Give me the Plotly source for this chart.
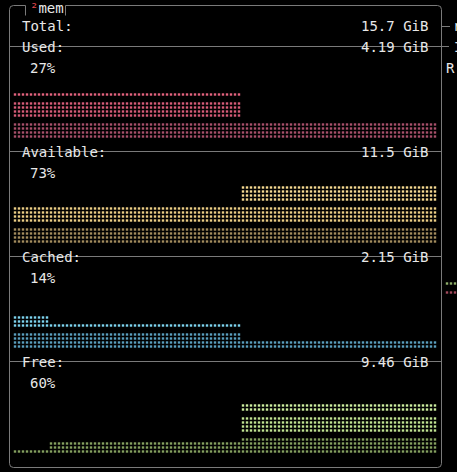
import plotly.graph_objects as go

# ---------------- data ----------------
total_label = "Total:"
total_value = "15.7 GiB"

stat_labels = ["Used:", "Available:", "Cached:", "Free:"]
stat_values = ["4.19 GiB", "11.5 GiB", "2.15 GiB", "9.46 GiB"]
stat_percents = [27, 73, 14, 60]

# graph history, run-length encoded: (samples, height in braille dot rows, max 12)
used_history = [(57, 9), (49, 4)]
available_history = [(57, 8), (49, 12)]
cached_history = [(9, 7), (48, 5), (49, 2)]
free_history = [(9, 1), (48, 3), (49, 10)]

# tiny disk io graph peeking in on the right (samples, dot rows)
disk_read_history = [(3, 1)]
disk_write_history = [(3, 1)]

side_texts = ["r", "I", "R"]

# ---------------- styling ----------------
W, H = 457, 472
CW, CH = 8, 21          # terminal cell size
Y0 = 26                 # centre of the "Total:" row
BG = "#000000"
FG = "#e8e8e8"
LINE = "#7a7a7a"
FONT = "DejaVu Sans Mono"
FS = 14

row_colors = [
    ["#e4637f", "#d65c78", "#a7506a"],   # used (top -> bottom)
    ["#f5d991", "#ebcd85", "#a38c5d"],   # available
    ["#8fe3f7", "#7dd3ee", "#5a9ebd"],   # cached
    ["#cdeea0", "#bfe291", "#84a05f"],   # free
]
histories = [used_history, available_history, cached_history, free_history]


def row_y(k):
    return Y0 + CH * k


def expand(runs):
    out = []
    for n, h in runs:
        out += [h] * n
    return out


fig = go.Figure()

# braille graphs
for s, hist in enumerate(histories):
    heights = expand(hist)
    groups = {0: ([], []), 1: ([], []), 2: ([], [])}
    for i, h in enumerate(heights):
        for r in range(h):
            cr = 2 - r // 4
            k = 3 + 5 * s + cr
            top = row_y(k) - CH / 2
            y = top + 16 - 4 * (r % 4)
            x = 15 + 4 * i
            groups[cr][0].append(x)
            groups[cr][1].append(y)
    for cr in range(3):
        xs, ys = groups[cr]
        if xs:
            fig.add_trace(go.Scatter(
                x=xs, y=ys, mode="markers", hoverinfo="skip", showlegend=False,
                marker=dict(symbol="square", size=2.4, color=row_colors[s][cr],
                            line=dict(width=0))))

# disk io mini graph (right edge)
for hist, k, off, col in [(disk_read_history, 12, 16, "#8fae6a"),
                          (disk_write_history, 13, 4, "#a24a5c")]:
    heights = expand(hist)
    xs = [15 + 4 * (108 + i) for i, h in enumerate(heights) if h > 0]
    ys = [row_y(k) - CH / 2 + off] * len(xs)
    fig.add_trace(go.Scatter(
        x=xs, y=ys, mode="markers", hoverinfo="skip", showlegend=False,
        marker=dict(symbol="square", size=2.4, color=col, line=dict(width=0))))

shapes = []
L, R = 9.5, 441.5
T, B = row_y(-1) + 0.5, row_y(21) + 0.5
rr = 4
# outer box with title notch
path = (f"M 25.5,{row_y(-1) + 10.5} L 25.5,{T} L {L + rr},{T} Q {L},{T} {L},{T + rr} "
        f"L {L},{B - rr} Q {L},{B} {L + rr},{B} L {R - rr},{B} Q {R},{B} {R},{B - rr} "
        f"L {R},{T + rr} Q {R},{T} {R - rr},{T} L 65.5,{T} L 65.5,{row_y(-1) + 10.5}")
shapes.append(dict(type="path", path=path, xref="x", yref="y",
                   line=dict(color=LINE, width=1), layer="below"))
# separators behind stat labels
for s in range(4):
    y = row_y(1 + 5 * s) - 0.5
    shapes.append(dict(type="line", x0=L, x1=R, y0=y, y1=y, xref="x", yref="y",
                       line=dict(color=LINE, width=1), layer="below"))
# right panel stubs
shapes.append(dict(type="line", x0=R, x1=450, y0=row_y(0) + 0.5, y1=row_y(0) + 0.5,
                   xref="x", yref="y", line=dict(color=LINE, width=1), layer="below"))
shapes.append(dict(type="line", x0=R, x1=449, y0=row_y(1) - 0.5, y1=row_y(1) - 0.5,
                   xref="x", yref="y", line=dict(color=LINE, width=1), layer="below"))

annotations = []


def txt(x, y, t, anchor="left", color=FG, size=FS):
    annotations.append(dict(x=x, y=y, xref="x", yref="y", text=t, showarrow=False,
                            xanchor=anchor, yanchor="middle", borderpad=0,
                            font=dict(family=FONT, size=size, color=color)))


txt(29, row_y(-1) + 2.5, "<span style='color:#e0484f'>²</span>mem")
txt(21, row_y(0), total_label)
txt(429, row_y(0), total_value, "right")
for s in range(4):
    txt(21, row_y(1 + 5 * s), stat_labels[s])
    txt(429, row_y(1 + 5 * s), stat_values[s], "right")
    txt(29, row_y(2 + 5 * s), f"{stat_percents[s]}%")
txt(452, row_y(0), side_texts[0])
txt(453, row_y(1), side_texts[1])
txt(445, row_y(2), side_texts[2])

fig.update_layout(
    width=W, height=H, autosize=False,
    margin=dict(l=0, r=0, t=0, b=0, pad=0),
    paper_bgcolor=BG, plot_bgcolor=BG,
    xaxis=dict(range=[0, W], visible=False, fixedrange=True),
    yaxis=dict(range=[H, 0], visible=False, fixedrange=True),
    shapes=shapes, annotations=annotations,
)

fig.write_html("out.html")
